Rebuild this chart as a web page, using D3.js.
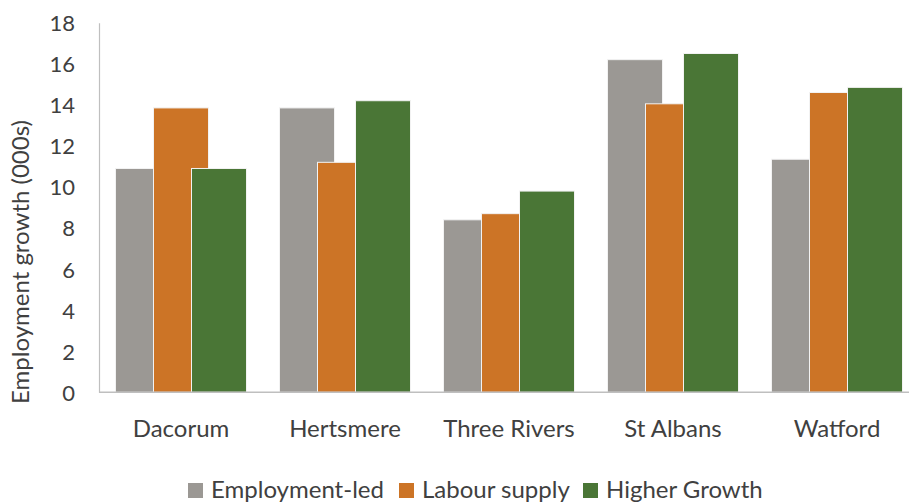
<!DOCTYPE html>
<html><head><meta charset="utf-8">
<script src="https://cdn.jsdelivr.net/npm/d3@7"></script>
<style>body{margin:0;background:#fff}svg{display:block}text{font-family:Lato,"Open Sans",sans-serif;fill:#404040}</style>
</head><body><svg id="c" width="909" height="502"></svg>
<script>
const categories = ["Dacorum","Hertsmere","Three Rivers","St Albans","Watford"];
const seriesNames = ["Employment-led","Labour supply","Higher Growth"];
const employmentLed = [10.9, 13.85, 8.4, 16.2, 11.35];
const labourSupply = [13.85, 11.2, 8.7, 14.05, 14.6];
const higherGrowth = [10.9, 14.2, 9.8, 16.5, 14.85];
const yTicks = [0,2,4,6,8,10,12,14,16,18];
const colors = ["#9b9894","#cc7426","#4a7636"];
const series = [employmentLed, labourSupply, higherGrowth];

const svg = d3.select("#c");
const x0 = 99, y0 = 392.3, yTop = 22.7;
const x = d3.scaleBand().domain(categories).range([x0, x0 + 164*5]).paddingInner(0).paddingOuter(0);
const y = d3.scaleLinear().domain([0,18]).range([y0, yTop]);
const barW = 55, off = 38;

// y axis labels
const ya = svg.append("g").attr("transform",`translate(${x0},0)`)
  .call(d3.axisLeft(y).tickValues(yTicks).tickSize(0).tickPadding(24));
ya.select(".domain").attr("stroke","#bfbfbf").attr("stroke-width",1.2);
ya.selectAll("text").style("font-size","22px").attr("fill","#404040").attr("font-family","Lato").attr("dy","0.36em");

// bars
series.forEach((vals,si)=>{
  svg.append("g").selectAll("rect").data(categories).join("rect")
    .attr("x", c => x(c) + x.bandwidth()/2 - (barW + 2*off)/2 + si*off)
    .attr("y", (c,i) => y(vals[i]))
    .attr("width", barW)
    .attr("height", (c,i) => y(0) - y(vals[i]))
    .attr("fill", colors[si])
    .attr("stroke", "#f2f2f2").attr("stroke-width", 1);
});

// baseline
svg.append("line").attr("x1",x0).attr("x2",909).attr("y1",y0).attr("y2",y0)
  .attr("stroke","#bfbfbf").attr("stroke-width",1.5);

// x labels
svg.append("g").selectAll("text").data(categories).join("text")
  .attr("x", c => x(c) + x.bandwidth()/2).attr("y", 437)
  .attr("text-anchor","middle").style("font-size","24px").text(d=>d);

// y title
svg.append("text").attr("transform","translate(29,262) rotate(-90)")
  .attr("text-anchor","middle").style("font-size","24px").text("Employment growth (000s)");

// legend
const legX = [188, 399, 583];
seriesNames.forEach((n,i)=>{
  svg.append("rect").attr("x",legX[i]).attr("y",483).attr("width",15).attr("height",15).attr("fill",colors[i]);
  svg.append("text").attr("x",legX[i]+23).attr("y",498).style("font-size","24px").text(n);
});
</script></body></html>
